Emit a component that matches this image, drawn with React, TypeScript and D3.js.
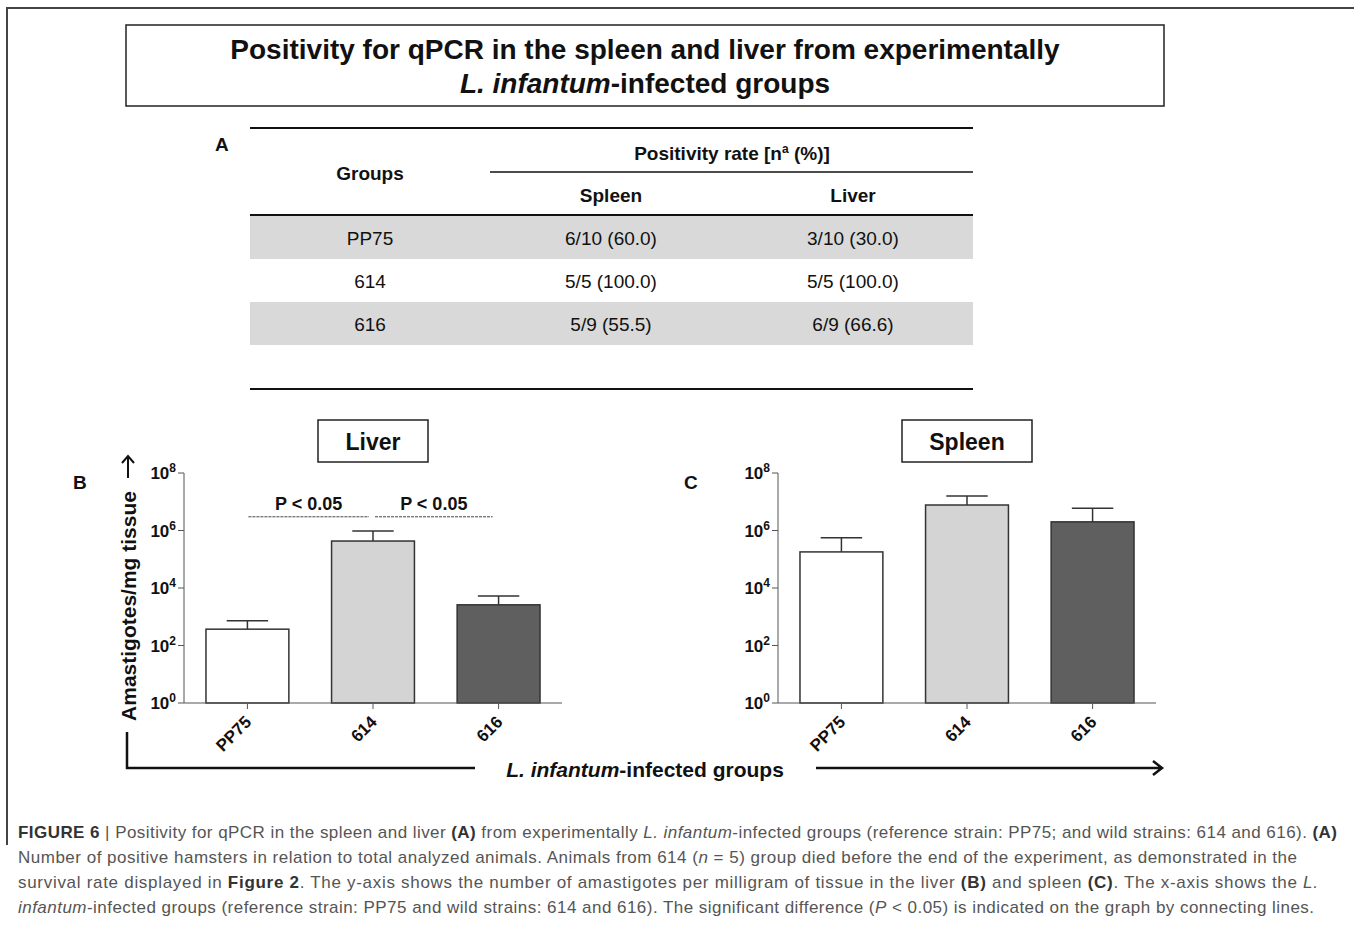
import React from "react";
import * as d3 from "d3";

const groups = ["PP75", "614", "616"];
const barColors = ["#ffffff", "#d4d4d4", "#5f5f5f"];

// amastigotes/mg tissue, mean and upper error
const liverMean = [370, 430000, 2600];
const liverUpper = [720, 960000, 5300];
const spleenMean = [180000, 7.7e6, 2.0e6];
const spleenUpper = [5.6e5, 1.6e7, 6.0e6];

const yTicks = [0, 2, 4, 6, 8];

// table A
const tableGroups = ["PP75", "614", "616"];
const spleenRate = ["6/10 (60.0)", "5/5 (100.0)", "5/9 (55.5)"];
const liverRate = ["3/10 (30.0)", "5/5 (100.0)", "6/9 (66.6)"];

// significance brackets (liver)
const sigPairs: Array<[string, string]> = [["PP75", "614"], ["614", "616"]];
const sigLevel = 3e6;

const FONT = "'Liberation Sans', Arial, sans-serif";

interface PanelProps {
	x0: number;
	title: string;
	letter: string;
	letterX: number;
	mean: number[];
	upper: number[];
	sig?: boolean;
}

const Panel: React.FC<PanelProps> = ({x0, title, letter, letterX, mean, upper, sig}) => {
	const y = d3.scaleLog().domain([1, 1e8]).range([703, 473]);
	const x = d3
		.scaleBand<string>()
		.domain(groups)
		.range([x0, x0 + 378])
		.paddingInner(0.34)
		.paddingOuter(0.175);
	const bw = x.bandwidth();
	const cx = (g: string) => (x(g) as number) + bw / 2;
	const boxW = title === "Liver" ? 110 : 130;
	const titleCx = cx("614");

	return (
		<g fontFamily={FONT}>
			<rect x={titleCx - boxW / 2} y={420} width={boxW} height={42} fill="#fff" stroke="#222" strokeWidth={1.5} />
			<text x={titleCx} y={450} textAnchor="middle" fontSize={23} fontWeight="bold" fill="#111">
				{title}
			</text>
			<text x={letterX} y={489} fontSize={19} fontWeight="bold" fill="#111">
				{letter}
			</text>

			{/* bars */}
			{groups.map((g, i) => (
				<g key={g}>
					<line x1={cx(g)} x2={cx(g)} y1={y(mean[i])} y2={y(upper[i])} stroke="#333" strokeWidth={1.5} />
					<line x1={cx(g) - bw / 4} x2={cx(g) + bw / 4} y1={y(upper[i])} y2={y(upper[i])} stroke="#333" strokeWidth={1.5} />
					<rect x={x(g)} y={y(mean[i])} width={bw} height={y(1) - y(mean[i])} fill={barColors[i]} stroke="#333" strokeWidth={1.5} />
				</g>
			))}

			{/* y axis */}
			<line x1={x0} x2={x0} y1={y(1e8)} y2={y(1)} stroke="#555" strokeWidth={1} />
			{yTicks.map((p) => (
				<g key={p}>
					<line x1={x0 - 6} x2={x0} y1={y(Math.pow(10, p))} y2={y(Math.pow(10, p))} stroke="#555" strokeWidth={1} />
					<text x={x0 - 8} y={y(Math.pow(10, p)) + 6} textAnchor="end" fontSize={17} fontWeight="bold" fill="#111">
						10
						<tspan fontSize={12} dy={-7}>{p}</tspan>
					</text>
				</g>
			))}

			{/* x axis */}
			<line x1={x0} x2={x0 + 378} y1={y(1)} y2={y(1)} stroke="#555" strokeWidth={1} />
			{groups.map((g) => (
				<g key={g}>
					<line x1={cx(g)} x2={cx(g)} y1={y(1)} y2={y(1) + 6} stroke="#555" strokeWidth={1} />
					<text
						transform={`translate(${cx(g) + 5},${y(1) + 20}) rotate(-45)`}
						textAnchor="end"
						fontSize={17}
						fontWeight="bold"
						fill="#111"
					>
						{g}
					</text>
				</g>
			))}

			{sig &&
				sigPairs.map(([a, b], i) => {
					const xa = cx(a) + (i === 0 ? 1 : 2);
					const xb = cx(b) - (i === 0 ? 4 : 6);
					return (
						<g key={i}>
							<line x1={xa} x2={xb} y1={y(sigLevel)} y2={y(sigLevel)} stroke="#444" strokeWidth={1} strokeDasharray="3,1" />
							<text x={(xa + xb) / 2} y={y(sigLevel) - 7} textAnchor="middle" fontSize={18} fontWeight="bold" fill="#111">
								P &lt; 0.05
							</text>
						</g>
					);
				})}
		</g>
	);
};

const App: React.FC = () => {
	const rowY = d3.scaleBand<string>().domain(tableGroups).range([216, 345]);
	const rh = rowY.bandwidth();

	return (
		<div style={{position: "absolute", left: 0, top: 0}}>
			<svg width={1354} height={926} style={{display: "block", background: "#fff"}}>
				{/* outer frame */}
				<path d="M7,845 V8 H1354" fill="none" stroke="#444" strokeWidth={2} />

				{/* title */}
				<rect x={126} y={25} width={1038} height={81} fill="#fff" stroke="#222" strokeWidth={1.5} />
				<g fontFamily={FONT} fontWeight="bold" fontSize={28} textAnchor="middle" fill="#111">
					<text x={645} y={59}>Positivity for qPCR in the spleen and liver from experimentally</text>
					<text x={645} y={93}>
						<tspan fontStyle="italic">L. infantum</tspan>-infected groups
					</text>
				</g>

				{/* table A */}
				<g fontFamily={FONT} fill="#111">
					<text x={215} y={151} fontSize={19} fontWeight="bold">A</text>
					{tableGroups.map((g, i) =>
						i % 2 === 0 ? (
							<rect key={g} x={250} y={rowY(g)} width={723} height={rh} fill="#d9d9d9" />
						) : null
					)}
					<line x1={250} x2={973} y1={128} y2={128} stroke="#111" strokeWidth={2} />
					<line x1={490} x2={973} y1={172} y2={172} stroke="#111" strokeWidth={1.5} />
					<line x1={250} x2={973} y1={215} y2={215} stroke="#111" strokeWidth={2} />
					<line x1={250} x2={973} y1={389} y2={389} stroke="#111" strokeWidth={2} />
					<g fontSize={19} fontWeight="bold" textAnchor="middle">
						<text x={370} y={180}>Groups</text>
						<text x={732} y={160}>
							Positivity rate [n<tspan fontSize={12} dy={-7}>a</tspan>
							<tspan dy={7}> (%)]</tspan>
						</text>
						<text x={611} y={202}>Spleen</text>
						<text x={853} y={202}>Liver</text>
					</g>
					<g fontSize={19} textAnchor="middle">
						{tableGroups.map((g, i) => (
							<g key={g}>
								<text x={370} y={(rowY(g) as number) + rh / 2 + 7}>{g}</text>
								<text x={611} y={(rowY(g) as number) + rh / 2 + 7}>{spleenRate[i]}</text>
								<text x={853} y={(rowY(g) as number) + rh / 2 + 7}>{liverRate[i]}</text>
							</g>
						))}
					</g>
				</g>

				<Panel x0={184} title="Liver" letter="B" letterX={73} mean={liverMean} upper={liverUpper} sig />
				<Panel x0={778} title="Spleen" letter="C" letterX={684} mean={spleenMean} upper={spleenUpper} />

				{/* y axis label */}
				<text
					transform="translate(136,606) rotate(-90)"
					textAnchor="middle"
					fontFamily={FONT}
					fontSize={21}
					fontWeight="bold"
					fill="#111"
				>
					Amastigotes/mg tissue
				</text>
				<path d="M128,478 V456 M122,463 L128,456 L134,463" fill="none" stroke="#111" strokeWidth={2} />

				{/* x axis label */}
				<path d="M127,732 V768 H475" fill="none" stroke="#111" strokeWidth={2.5} />
				<text x={645} y={777} textAnchor="middle" fontFamily={FONT} fontSize={21} fontWeight="bold" fill="#111">
					<tspan fontStyle="italic">L. infantum</tspan>-infected groups
				</text>
				<path d="M816,768 H1162 M1153,761 L1162,768 L1153,775" fill="none" stroke="#111" strokeWidth={2.5} />

				{/* caption */}
				<g fontFamily={FONT} fontSize={17} fill="#555">
					<text x={18} y={838} textLength={1319} lengthAdjust="spacing">
						<tspan fontWeight="bold" fill="#333">FIGURE 6</tspan> | Positivity for qPCR in the spleen and liver{" "}
						<tspan fontWeight="bold" fill="#333">(A)</tspan> from experimentally{" "}
						<tspan fontStyle="italic">L. infantum</tspan>-infected groups (reference strain: PP75; and wild strains: 614 and 616).{" "}
						<tspan fontWeight="bold" fill="#333">(A)</tspan>
					</text>
					<text x={18} y={863} textLength={1279} lengthAdjust="spacing">
						Number of positive hamsters in relation to total analyzed animals. Animals from 614 (<tspan fontStyle="italic">n</tspan> = 5) group died before the end of the experiment, as demonstrated in the
					</text>
					<text x={18} y={888} textLength={1300} lengthAdjust="spacing">
						survival rate displayed in <tspan fontWeight="bold" fill="#333">Figure 2</tspan>. The y-axis shows the number of amastigotes per milligram of tissue in the liver{" "}
						<tspan fontWeight="bold" fill="#333">(B)</tspan> and spleen <tspan fontWeight="bold" fill="#333">(C)</tspan>. The x-axis shows the{" "}
						<tspan fontStyle="italic">L.</tspan>
					</text>
					<text x={18} y={913} textLength={1296} lengthAdjust="spacing">
						<tspan fontStyle="italic">infantum</tspan>-infected groups (reference strain: PP75 and wild strains: 614 and 616). The significant difference (<tspan fontStyle="italic">P</tspan> &lt; 0.05) is indicated on the graph by connecting lines.
					</text>
				</g>
			</svg>
		</div>
	);
};

export default App;
